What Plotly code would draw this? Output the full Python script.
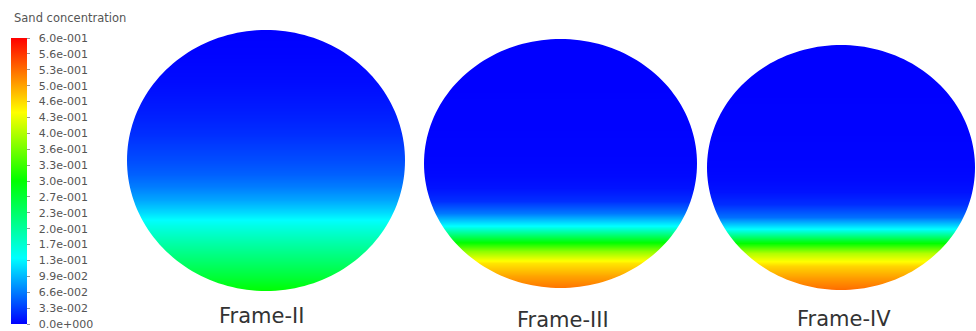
import numpy as np
import plotly.graph_objects as go

# ---------------- data ----------------
# normalized vertical position across the pipe section (-1 = bottom, 1 = top)
heights = [-1.0, -0.9, -0.8, -0.7, -0.6, -0.5, -0.4, -0.3, -0.2, -0.1,
           0.0, 0.1, 0.2, 0.3, 0.4, 0.5, 0.6, 0.7, 0.8, 0.9, 1.0]

# sand concentration profiles
frame_ii = [0.300, 0.268, 0.240, 0.213, 0.185, 0.155, 0.120, 0.090, 0.068, 0.052,
            0.042, 0.033, 0.025, 0.019, 0.014, 0.010, 0.006, 0.004, 0.002, 0.001, 0.000]
frame_iii = [0.530, 0.500, 0.460, 0.380, 0.260, 0.140, 0.065, 0.025, 0.010, 0.005,
             0.003, 0.002, 0.002, 0.001, 0.001, 0.001, 0.000, 0.000, 0.000, 0.000, 0.000]
frame_iv = [0.535, 0.505, 0.470, 0.400, 0.280, 0.140, 0.060, 0.024, 0.010, 0.005,
            0.003, 0.002, 0.002, 0.001, 0.001, 0.001, 0.000, 0.000, 0.000, 0.000, 0.000]

frame_labels = ["Frame-II", "Frame-III", "Frame-IV"]

cbar_labels = ["0.0e+000", "3.3e-002", "6.6e-002", "9.9e-002", "1.3e-001",
               "1.7e-001", "2.0e-001", "2.3e-001", "2.7e-001", "3.0e-001",
               "3.3e-001", "3.6e-001", "4.0e-001", "4.3e-001", "4.6e-001",
               "5.0e-001", "5.3e-001", "5.6e-001", "6.0e-001"]
cbar_title = "Sand concentration"
zmin, zmax = 0.0, 0.6

# ---------------- layout geometry (pixels) ----------------
W, H = 976, 331
boxes = [  # left, right, top, bottom of each section
    (127, 405, 30, 291),
    (424, 697, 39, 288),
    (707, 975, 45, 290),
]
label_pos = [(261, 316), (563, 320), (844, 319)]

colorscale = [[0.0, "#0000ff"], [0.23, "#00ffff"], [0.5, "#00ff00"],
              [0.74, "#ffff00"], [1.0, "#ff0000"]]

tickvals = [zmin + i * (zmax - zmin) / (len(cbar_labels) - 1) for i in range(len(cbar_labels))]
ticktext = ["\u00a0\u00a0" + s for s in cbar_labels]

fig = go.Figure()
profiles = [frame_ii, frame_iii, frame_iv]

for k, prof in enumerate(profiles):
    ax = "" if k == 0 else str(k + 1)
    z = [[v, v] for v in prof]
    tr = go.Heatmap(
        x=[-1.2, 1.2], y=heights, z=z,
        zmin=zmin, zmax=zmax, colorscale=colorscale, zsmooth="best",
        xaxis="x" + ax, yaxis="y" + ax, hoverinfo="skip",
        showscale=(k == 0),
    )
    if k == 0:
        tr.colorbar = dict(
            x=11 / W, xanchor="left", y=1 - 38 / H, yanchor="top",
            len=286, lenmode="pixels", thickness=16, thicknessmode="pixels",
            xpad=0, ypad=0, outlinewidth=0,
            tickmode="array", tickvals=tickvals, ticktext=ticktext,
            ticks="outside", ticklen=3, tickcolor="#999",
            tickfont=dict(family="DejaVu Sans", size=11, color="#555"),
        )
    fig.add_trace(tr)

# white mask around each circular section
theta = np.linspace(0, 2 * np.pi, 181)
circle = " ".join(f"L{np.cos(t):.4f},{np.sin(t):.4f}" for t in theta[1:])
mask_path = (f"M-2,-2 L2,-2 L2,2 L-2,2 Z "
             f"M{np.cos(0):.4f},{np.sin(0):.4f} {circle} Z")

layout = dict(
    width=W, height=H, margin=dict(l=0, r=0, t=0, b=0),
    paper_bgcolor="white", plot_bgcolor="white", showlegend=False,
)
shapes = []
annotations = []
for k, (l, r, t, b) in enumerate(boxes):
    ax = "" if k == 0 else str(k + 1)
    layout["xaxis" + ax] = dict(domain=[l / W, r / W], range=[-1, 1], visible=False,
                                fixedrange=True)
    layout["yaxis" + ax] = dict(domain=[1 - b / H, 1 - t / H], range=[-1, 1], visible=False,
                                fixedrange=True)
    shapes.append(dict(type="path", path=mask_path, xref="x" + ax, yref="y" + ax,
                       fillcolor="white", fillrule="evenodd", line=dict(width=0),
                       layer="above"))
    lx, ly = label_pos[k]
    annotations.append(dict(text=frame_labels[k], x=lx / W, y=1 - ly / H,
                            xref="paper", yref="paper", showarrow=False,
                            xanchor="center", yanchor="middle",
                            font=dict(family="DejaVu Sans", size=21, color="#333")))

annotations.append(dict(text=cbar_title, x=12 / W, y=1 - 18 / H, xref="paper", yref="paper",
                        showarrow=False, xanchor="left", yanchor="middle",
                        font=dict(family="DejaVu Sans", size=11.5, color="#555")))

layout["shapes"] = shapes
layout["annotations"] = annotations
fig.update_layout(**layout)

fig.write_html("out.html")
